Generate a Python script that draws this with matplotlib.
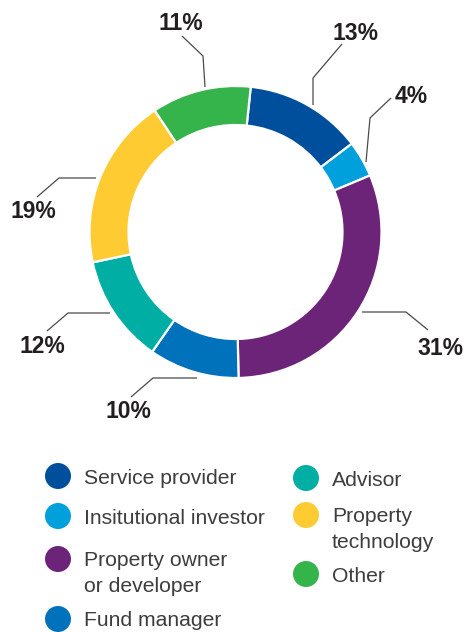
import matplotlib.pyplot as plt
import numpy as np
from matplotlib.patches import Circle

W, H = 466, 632

categories = ["Service provider", "Insitutional investor", "Property owner\nor developer",
              "Fund manager", "Advisor", "Property\ntechnology", "Other"]
shares = [13, 4, 31, 10, 12, 19, 11]
colors = ["#004f9c", "#00a0dc", "#6c2479", "#0071bb", "#00aea4", "#fecb33", "#35b44b"]

# leader line points and label centre for each slice (pixel coords, y down)
leaders = [
    [(313, 105), (313, 78), (342, 44)],
    [(366, 162), (370, 118), (391, 98)],
    [(362, 312), (406, 312), (428, 330)],
    [(197, 378), (153, 378), (131, 397)],
    [(110, 313), (68, 313), (47, 331)],
    [(96, 178), (59, 178), (37, 197)],
    [(205, 87), (203, 56), (182, 36)],
]
label_pos = [(355, 32), (411, 95), (440, 347), (128, 410), (42, 345), (33, 210), (181, 22)]

# legend slots: (circle x, circle y) per category
legend_pos = [(58, 476), (58, 516), (58, 559), (58, 619),
              (306, 478), (306, 515), (306, 574)]

def Y(y):
    return H - y

fig = plt.figure(figsize=(W / 100, H / 100), dpi=100)
ax = fig.add_axes([0, 0, 1, 1])

ax.pie(shares, colors=colors, startangle=84, counterclock=False,
       radius=146, center=(235.5, Y(232)),
       wedgeprops=dict(width=39, edgecolor="white", linewidth=1.6))

for pts, (tx, ty), v in zip(leaders, label_pos, shares):
    xs = [p[0] for p in pts]
    ys = [Y(p[1]) for p in pts]
    ax.plot(xs, ys, color="#4a4a4a", lw=0.9, solid_capstyle="butt")
    ax.text(tx, Y(ty + 8), f"{v}%", ha="center", va="baseline",
            fontsize=16.5, fontweight="bold", family="Liberation Sans",
            color="#231f20")

for (cx, cy), c, name in zip(legend_pos, colors, categories):
    ax.add_patch(Circle((cx, Y(cy)), 13, color=c, lw=0))
    for k, line in enumerate(name.split("\n")):
        ax.text(cx + 26, Y(cy + 7.5 + 25 * k), line, ha="left", va="baseline",
                fontsize=15.2, family="Liberation Sans", color="#3d3d3d")

ax.set_xlim(0, W)
ax.set_ylim(0, H)
ax.set_aspect("equal")
ax.axis("off")

fig.savefig("out.png", dpi=100, facecolor="white")
